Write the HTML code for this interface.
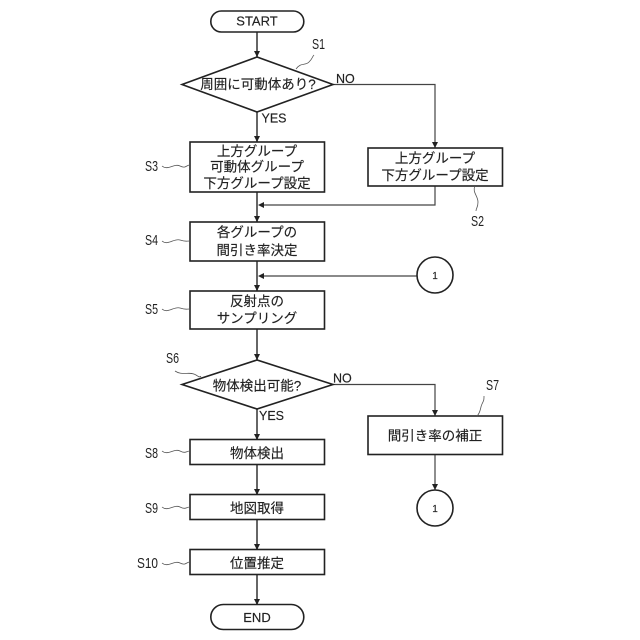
<!DOCTYPE html>
<html><head><meta charset="utf-8"><style>
html,body{margin:0;padding:0;background:#fff}
svg{display:block}
text{font-family:"Liberation Sans","Noto Sans CJK JP",sans-serif;fill:#222;stroke:#222;stroke-width:.15;font-size:13.5px;text-anchor:middle}
.e{font-size:13px}
.l{font-size:12.5px;text-anchor:start}
.s{font-size:15px;text-anchor:start;stroke-width:0}
.n{font-size:10px}
.b{fill:#fff;stroke:#222;stroke-width:1.6}
.c{fill:none;stroke:#444;stroke-width:1.2}
.v{fill:none;stroke:#555;stroke-width:1.8}
.w{fill:none;stroke:#555;stroke-width:.8}
.a{fill:#222}
</style></head><body>
<svg width="640" height="640" viewBox="0 0 640 640" xmlns="http://www.w3.org/2000/svg">
<!-- connectors -->
<path class="v" d="M257 32V57M257 112V142M257 192V222M257 261V291M257 329V360M257 409V440M257 465V495M257 520V550M257 575V605"/>
<path class="c" d="M333 84.500H435V148M435 186V205H260M417 276H260M333 384.500H435V416M435 455V490"/>
<!-- arrowheads -->
<path class="a" d="M254 51h6l-3 6zM254 136h6l-3 6zM432 142h6l-3 6zM254 216h6l-3 6zM254 285h6l-3 6zM254 354h6l-3 6zM432 410h6l-3 6zM254 434h6l-3 6zM254 489h6l-3 6zM254 544h6l-3 6zM254 599h6l-3 6zM432 484h6l-3 6zM258 205l6-3v6zM258 276l6-3v6z"/>
<!-- shapes -->
<rect class="b" x="210.800" y="11" width="93" height="21" rx="10.500"/>
<polygon class="b" points="182,84.500 257,57 333,84.500 257,112"/>
<rect class="b" x="190" y="142" width="134.500" height="50"/>
<rect class="b" x="368" y="148" width="134.500" height="38"/>
<rect class="b" x="190" y="222" width="134.500" height="39"/>
<circle class="b" cx="435" cy="275" r="18"/>
<rect class="b" x="190" y="291" width="134.500" height="38"/>
<polygon class="b" points="182,384.500 257,360 333,384.500 257,409"/>
<rect class="b" x="368" y="416" width="134.500" height="38.500"/>
<rect class="b" x="190" y="439.500" width="134.500" height="25"/>
<rect class="b" x="190" y="494.500" width="134.500" height="25"/>
<rect class="b" x="190" y="549.500" width="134.500" height="25"/>
<rect class="b" x="210.800" y="604.500" width="93" height="25" rx="12.500"/>
<circle class="b" cx="435" cy="508" r="18"/>
<!-- leader squiggles -->
<path class="w" d="M296 69C301 62 305 66 309 62S312 57 314 55"/>
<path class="w" d="M162 166C168 171 174 163 180 166S186 165 190 165"/>
<path class="w" d="M162 241C168 246 174 238 180 240S186 241 190 241"/>
<path class="w" d="M162 309C168 314 174 306 180 308S186 309 190 309"/>
<path class="w" d="M175 371C182 376 190 371 196 375S199 375 201 377"/>
<path class="w" d="M162 451C168 456 174 448 180 451S186 451 190 451"/>
<path class="w" d="M162 507C168 512 174 504 180 507S186 507 190 507"/>
<path class="w" d="M162 563C168 568 174 560 180 563S186 562 190 562"/>
<path class="w" d="M477 416C481 412 480 408 482 404S484 400 484 396"/>
<path class="w" d="M475 186C472 192 478 196 478 202S476 208 476 211"/>
<!-- labels -->
<text class="e" x="257" y="25.500">START</text>
<text x="258" y="89">周囲に可動体あり?</text>
<text x="257" y="156">上方グループ</text>
<text x="257" y="171.500">可動体グループ</text>
<text x="257" y="188">下方グループ設定</text>
<text x="435" y="163">上方グループ</text>
<text x="435" y="180">下方グループ設定</text>
<text x="257" y="237">各グループの</text>
<text x="257" y="255">間引き率決定</text>
<text x="257" y="306">反射点の</text>
<text x="257" y="323">サンプリング</text>
<text x="257" y="390.500">物体検出可能?</text>
<text x="435" y="440.500">間引き率の補正</text>
<text x="257" y="458">物体検出</text>
<text x="257" y="513">地図取得</text>
<text x="257" y="568">位置推定</text>
<text class="e" x="257" y="622">END</text>
<text class="n" x="435" y="279">1</text>
<text class="n" x="435" y="512">1</text>
<text class="l" x="336" y="83">NO</text>
<text class="l" x="261.500" y="122.500">YES</text>
<text class="l" x="333" y="382.500">NO</text>
<text class="l" x="259" y="420">YES</text>
<text class="s" x="312" y="49" textLength="13" lengthAdjust="spacingAndGlyphs">S1</text>
<text class="s" x="471" y="226" textLength="13" lengthAdjust="spacingAndGlyphs">S2</text>
<text class="s" x="145" y="171" textLength="13" lengthAdjust="spacingAndGlyphs">S3</text>
<text class="s" x="145" y="245" textLength="13" lengthAdjust="spacingAndGlyphs">S4</text>
<text class="s" x="145" y="314" textLength="13" lengthAdjust="spacingAndGlyphs">S5</text>
<text class="s" x="166" y="363" textLength="13" lengthAdjust="spacingAndGlyphs">S6</text>
<text class="s" x="486" y="390" textLength="13" lengthAdjust="spacingAndGlyphs">S7</text>
<text class="s" x="145" y="458" textLength="13" lengthAdjust="spacingAndGlyphs">S8</text>
<text class="s" x="145" y="513" textLength="13" lengthAdjust="spacingAndGlyphs">S9</text>
<text class="s" x="137" y="568" textLength="21" lengthAdjust="spacingAndGlyphs">S10</text>
</svg>
</body></html>
